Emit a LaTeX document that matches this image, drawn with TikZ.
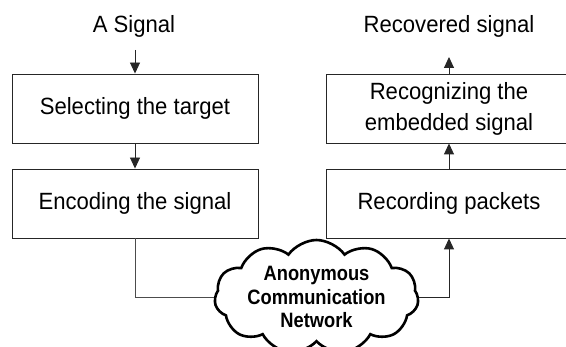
\documentclass[tikz,border=0pt]{standalone}
\usepackage{fontspec}
\setmainfont{Liberation Sans}
\newfontfamily\boxfont[FakeStretch=0.94]{Liberation Sans}
\newfontfamily\cloudfont[FakeStretch=0.88]{Liberation Sans}
\usetikzlibrary{arrows.meta,shapes.symbols}
\begin{document}
\begin{tikzpicture}[x=1pt,y=-1pt,
  box/.style={draw=black!85,line width=0.9pt,minimum width=246pt,minimum height=69pt,inner sep=0pt,align=center,font=\boxfont\fontsize{23.5}{31}\selectfont},
  lbl/.style={inner sep=0pt,font=\boxfont\fontsize{23.5}{31}\selectfont},
  arr/.style={draw=black!85,line width=0.9pt,-{Triangle[length=11pt,width=10pt]}},
  link/.style={draw=black!70,line width=0.9pt}]
\useasboundingbox (0,0) rectangle (566,347);
\clip (0,0) rectangle (566,347);
\node[lbl,anchor=base] (sig) at (134,33) {A Signal};
\node[lbl,anchor=base] (out) at (449,33) {Recovered signal};
\node[box] (sel) at (135,108.5) {Selecting the target};
\node[box] (enc) at (135,203.5) {Encoding the signal};
\node[box] (rec) at (449,108.5) {Recognizing the\\embedded signal};
\node[box] (pkt) at (449,203.5) {Recording packets};
\node[cloud,draw=black,line width=2.6pt,cloud puffs=11,cloud puff arc=110,aspect=2.2,
  minimum width=204pt,minimum height=94pt,inner sep=0pt,align=center,
  font=\cloudfont\bfseries\fontsize{20.8}{23.5}\selectfont] (net) at (316.5,297) {Anonymous\\Communication\\Network};
\coordinate (sigEnd) at (135,50);
\coordinate (outEnd) at (449,57);
\draw[arr] (sigEnd) -- (sel.north);
\draw[arr] (sel.south) -- (enc.north);
\draw[link] (enc.south) |- (net.west);
\draw[arr] (net.east) -| (pkt.south);
\draw[arr] (pkt.north) -- (rec.south);
\draw[arr] (rec.north) -- (outEnd);
\end{tikzpicture}
\end{document}
